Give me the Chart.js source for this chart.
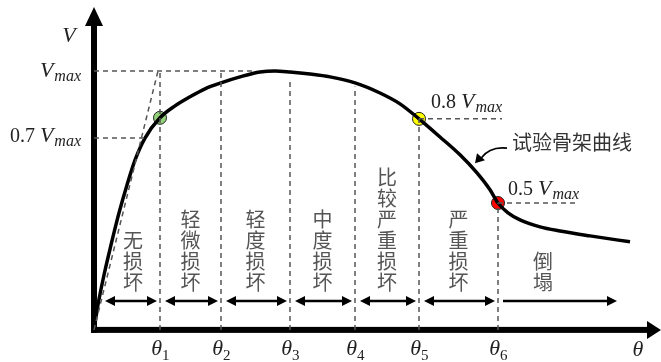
<!DOCTYPE html>
<html>
<head>
<meta charset="utf-8">
<script src="https://cdn.jsdelivr.net/npm/chart.js@4.4.1/dist/chart.umd.min.js"></script>
<style>
  html, body { margin: 0; padding: 0; background: #fff; }
  canvas { display: block; }
</style>
</head>
<body>
<canvas id="chart" width="661" height="362"></canvas>
<script>
// skeleton curve: theta (arbitrary units) vs V / Vmax
const curveX = [0, 0.4, 1.0, 1.7, 2.5, 3.3, 4.1, 5.1, 6.6, 8.1, 9.6, 11.1, 12.7, 14.6, 16.6, 18.1,
  19.6, 21.6, 23.6, 26.1, 28.6, 30.6, 32.5, 34.6, 36.6, 38.3, 39.6, 40.4, 41.4, 42.6, 44.6, 46.6, 49.6, 53.6];
const curveV = [0, 0.097, 0.212, 0.328, 0.452, 0.56, 0.656, 0.741, 0.819, 0.865, 0.9, 0.931, 0.954, 0.977, 0.996, 1.0,
  0.996, 0.988, 0.977, 0.954, 0.915, 0.873, 0.815, 0.745, 0.676, 0.606, 0.541, 0.49, 0.452, 0.425, 0.398, 0.382, 0.363, 0.34];

// damage limits theta1..theta6 and how high their dashed line goes
const thetaX = [6.6, 12.7, 19.6, 26.1, 32.5, 40.4];
const thetaTop = [1.0, 0.996, 0.965, 0.94, 0.815, 0.49];
const thetaSubs = ["1", "2", "3", "4", "5", "6"];

const stageNames = ["无损坏", "轻微损坏", "轻度损坏", "中度损坏", "比较严重损坏", "严重损坏", "倒塌"];

// horizontal reference levels
const levelPrefix = ["", "0.7 ", "0.8 ", "0.5 "];
const levelV = [1.0, 0.741, 0.815, 0.49];
const levelFrom = [0, 0, 32.5, 40.4];
const levelTo = [16, 5.0, 40.8, 48.3];

// secant (dashed) from origin to Vmax
const secantX = [0, 6.4];
const secantV = [0, 1.0];

// characteristic points
const markerX = [6.6, 32.5, 40.4];
const markerV = [0.819, 0.815, 0.49];
const markerColors = ["#93d07a", "#ffff00", "#ff0000"];

const curveLabel = "试验骨架曲线";

const dash = { borderColor: "#555", borderWidth: 1.5, borderDash: [5, 4], pointRadius: 0, fill: false };

const guideSets = levelV.map((v, i) => ({
  ...dash, data: [{ x: levelFrom[i], y: v }, { x: levelTo[i], y: v }]
}));
const thetaSets = thetaX.map((t, i) => ({
  ...dash, data: [{ x: t, y: 0 }, { x: t, y: thetaTop[i] }]
}));

const serif = '"Liberation Serif", "DejaVu Serif", serif';

function vmaxLabel(ctx, prefix, x, y, align) {
  ctx.font = "20px " + serif;
  const w1 = ctx.measureText(prefix).width;
  ctx.font = "italic 22px " + serif;
  const w2 = ctx.measureText("V").width;
  ctx.font = "italic 16px " + serif;
  const w3 = ctx.measureText("max").width;
  let left = align === "right" ? x - (w1 + w2 + w3) : x;
  ctx.textAlign = "left";
  ctx.textBaseline = "alphabetic";
  ctx.fillStyle = "#222";
  ctx.font = "20px " + serif;
  ctx.fillText(prefix, left, y);
  ctx.font = "italic 22px " + serif;
  ctx.fillText("V", left + w1, y);
  ctx.font = "italic 16px " + serif;
  ctx.fillText("max", left + w1 + w2 + 1, y + 4);
}

function arrowHead(ctx, x, y, dir, len, half) {
  ctx.beginPath();
  ctx.moveTo(x, y);
  ctx.lineTo(x - dir * len, y - half);
  ctx.lineTo(x - dir * len, y + half);
  ctx.closePath();
  ctx.fill();
}

const decor = {
  id: "decor",
  beforeDatasetsDraw(chart) {
    const { ctx } = chart;
    const xs = chart.scales.x, ys = chart.scales.y;
    const ox = xs.getPixelForValue(0), oy = ys.getPixelForValue(0);
    ctx.save();
    ctx.fillStyle = "#000";
    // y axis
    ctx.fillRect(ox - 3, 24, 6, oy - 24 + 3);
    ctx.beginPath();
    ctx.moveTo(ox, 7); ctx.lineTo(ox - 9, 26); ctx.lineTo(ox + 9, 26); ctx.closePath(); ctx.fill();
    // x axis
    ctx.fillRect(ox - 3, oy - 3, 648 - ox + 3, 6);
    ctx.beginPath();
    ctx.moveTo(661, oy); ctx.lineTo(647, oy - 9); ctx.lineTo(647, oy + 9); ctx.closePath(); ctx.fill();
    ctx.restore();
  },
  afterDatasetsDraw(chart) {
    const { ctx } = chart;
    const xs = chart.scales.x, ys = chart.scales.y;
    const ox = xs.getPixelForValue(0), oy = ys.getPixelForValue(0);
    ctx.save();

    // axis names
    ctx.fillStyle = "#222";
    ctx.font = "italic 22px " + serif;
    ctx.textAlign = "center";
    ctx.textBaseline = "alphabetic";
    ctx.fillText("V", 69, 42);
    ctx.fillText("θ", 638, 356);

    // theta ticks
    thetaX.forEach((t, i) => {
      const px = xs.getPixelForValue(t);
      ctx.font = "italic 22px " + serif;
      ctx.textAlign = "right";
      ctx.fillText("θ", px + 2, 355);
      ctx.font = "15px " + serif;
      ctx.textAlign = "left";
      ctx.fillText(thetaSubs[i], px + 2, 360);
    });

    // level labels
    const leftX = ox - 14;
    vmaxLabel(ctx, levelPrefix[0], leftX, ys.getPixelForValue(levelV[0]) + 6, "right");
    vmaxLabel(ctx, levelPrefix[1], leftX, ys.getPixelForValue(levelV[1]) + 4, "right");
    vmaxLabel(ctx, levelPrefix[2], xs.getPixelForValue(levelFrom[2]) + 12, ys.getPixelForValue(levelV[2]) - 11, "left");
    vmaxLabel(ctx, levelPrefix[3], xs.getPixelForValue(levelFrom[3]) + 10, ys.getPixelForValue(levelV[3]) - 8, "left");

    // stage range arrows
    const bounds = [0, ...thetaX];
    const arrowY = oy - 29;
    ctx.strokeStyle = "#000";
    ctx.fillStyle = "#000";
    ctx.lineWidth = 2.5;
    const segs = [];
    for (let i = 0; i < thetaX.length; i++) {
      const a = xs.getPixelForValue(bounds[i]) + (i === 0 ? 11 : 5);
      const b = xs.getPixelForValue(bounds[i + 1]) - 3;
      segs.push([a, b, true]);
    }
    const lastStart = xs.getPixelForValue(thetaX[5]) + 5;
    segs.push([lastStart, xs.getPixelForValue(52.3), false]);
    segs.forEach(([a, b, both]) => {
      ctx.beginPath();
      ctx.moveTo(a + (both ? 6 : 0), arrowY);
      ctx.lineTo(b - 6, arrowY);
      ctx.stroke();
      arrowHead(ctx, b, arrowY, 1, 10, 5);
      if (both) arrowHead(ctx, a, arrowY, -1, 10, 5);
    });

    // vertical stage names
    ctx.fillStyle = "#555";
    ctx.font = '20px "Noto Sans CJK SC", sans-serif';
    ctx.textAlign = "center";
    ctx.textBaseline = "middle";
    stageNames.forEach((name, i) => {
      let cx;
      if (i === 0) cx = (segs[0][0] + segs[0][1]) / 2 + 2;
      else if (i === stageNames.length - 1) cx = xs.getPixelForValue(thetaX[5]) + 45;
      else cx = (xs.getPixelForValue(bounds[i]) + xs.getPixelForValue(bounds[i + 1])) / 2;
      const chars = [...name];
      chars.forEach((ch, k) => {
        ctx.fillText(ch, cx, oy - 47 - (chars.length - 1 - k) * 21);
      });
    });

    // curve caption with curved pointer
    const capX = xs.getPixelForValue(41.8), capY = ys.getPixelForValue(0.725);
    ctx.fillStyle = "#333";
    ctx.textAlign = "left";
    ctx.fillText(curveLabel, capX, capY);
    ctx.strokeStyle = "#000";
    ctx.lineWidth = 1.6;
    ctx.beginPath();
    ctx.moveTo(capX - 5, capY + 6);
    ctx.quadraticCurveTo(capX - 22, capY + 4, capX - 31, capY + 16);
    ctx.stroke();
    ctx.fillStyle = "#000";
    ctx.beginPath();
    ctx.moveTo(capX - 37, capY + 21);
    ctx.lineTo(capX - 35, capY + 11);
    ctx.lineTo(capX - 27, capY + 18);
    ctx.closePath();
    ctx.fill();

    ctx.restore();
  }
};

new Chart(document.getElementById("chart"), {
  type: "scatter",
  data: {
    datasets: [
      ...guideSets,
      ...thetaSets,
      { ...dash, data: secantX.map((x, i) => ({ x, y: secantV[i] })), showLine: true },
      {
        data: curveX.map((x, i) => ({ x, y: curveV[i] })),
        showLine: true, borderColor: "#000", borderWidth: 3.5, pointRadius: 0,
        cubicInterpolationMode: "monotone"
      },
      {
        data: markerX.map((x, i) => ({ x, y: markerV[i] })),
        showLine: false, pointRadius: 6.5, pointBackgroundColor: markerColors,
        pointBorderColor: "#222", pointBorderWidth: 1
      }
    ].map(d => ({ showLine: true, ...d }))
  },
  options: {
    responsive: false,
    animation: false,
    layout: { padding: 0, autoPadding: false },
    plugins: { legend: { display: false }, tooltip: { enabled: false } },
    scales: {
      x: { type: "linear", display: false, min: -9.4, max: 56.7 },
      y: { type: "linear", display: false, min: -0.124, max: 1.274 }
    }
  },
  plugins: [decor]
});
</script>
</body>
</html>
